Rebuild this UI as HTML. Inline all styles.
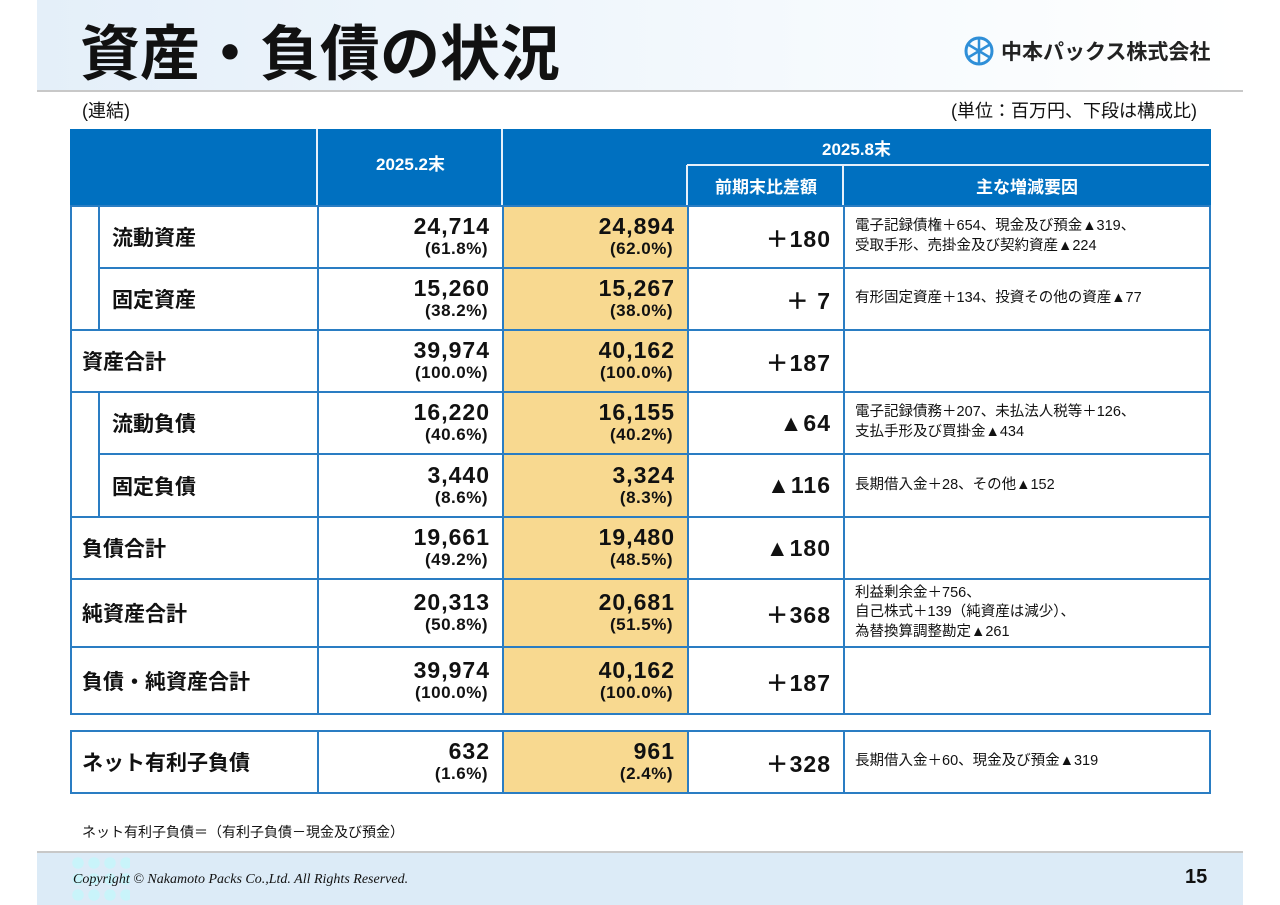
<!DOCTYPE html>
<html><head><meta charset="utf-8"><style>
*{margin:0;padding:0;box-sizing:border-box}
body{width:1280px;height:905px;position:relative;background:#fff;font-family:"Liberation Sans","Noto Sans CJK JP",sans-serif;overflow:hidden;color:#111}
.a{position:absolute}
.cell{position:absolute;border:2px solid #2a7dc3}
.hd{position:absolute;background:#0070c0;color:#fff;font-weight:bold;font-size:17px;display:flex;align-items:center;justify-content:center}
.lbl{font-weight:bold;font-size:21px;display:flex;align-items:center}
.num{text-align:right;padding-right:12px;font-weight:bold;line-height:1}
.num b{display:block;font-size:23px;margin-top:4px;letter-spacing:1px}
.num i{display:block;font-style:normal;font-size:17px;margin-top:2px;padding-right:2px;letter-spacing:0.5px}
.diff{font-weight:bold;font-size:23px;display:flex;align-items:center;justify-content:flex-end;padding-right:12px;letter-spacing:1px}
.note{font-size:14.5px;display:flex;align-items:center;padding-left:10px;line-height:1.35}
</style></head><body>
<div class="a" style="left:37px;top:0;width:1206px;height:91px;background:linear-gradient(90deg,#e4eff9 0%,#f4f9fd 60%,#fff 100%)"></div>
<div class="a" style="left:37px;top:90px;width:1206px;height:2px;background:#c8c8c8"></div>
<div class="a" style="left:80px;top:6px;font-size:60px;font-weight:bold;letter-spacing:0px">資産・負債の状況</div>
<div class="a" style="left:963px;top:35px;display:flex;align-items:center;gap:6px">
<svg width="32" height="32" viewBox="0 0 32 32"><circle cx="16" cy="16" r="13" fill="none" stroke="#2f8fd8" stroke-width="3"/><path d="M16 3V29M6 10L26 22M26 10L6 22" stroke="#2f8fd8" stroke-width="2.5"/></svg>
<span style="font-size:21px;font-weight:bold;color:#222">中本パックス株式会社</span></div>
<div class="a" style="left:82px;top:97px;font-size:18px">(連結)</div>
<div class="a" style="right:83px;top:97px;font-size:18px">(単位：百万円、下段は構成比)</div>
<div id="tbl"></div>
<div class="a" style="left:82px;top:822px;font-size:14px">ネット有利子負債＝（有利子負債－現金及び預金）</div>
<div class="a" style="left:37px;top:851px;width:1206px;height:54px;background:#dcebf7;border-top:2px solid #c8c8c8"></div>
<div class="a" style="left:70px;top:855px;width:60px;height:48px;background:radial-gradient(circle,#c4f6fb 50%,transparent 52%);background-size:16px 16px;opacity:.8"></div>
<div class="a" style="left:73px;top:872px;font-size:14px;font-style:italic;font-family:'Liberation Serif',serif">Copyright © Nakamoto Packs Co.,Ltd. All Rights Reserved.</div>
<div class="a" style="left:1185px;top:866px;font-size:20px;font-weight:bold">15</div>
<script>
const labels=["流動資産","固定資産","資産合計","流動負債","固定負債","負債合計","純資産合計","負債・純資産合計","ネット有利子負債"];
const prevVals=["24,714","15,260","39,974","16,220","3,440","19,661","20,313","39,974","632"];
const prevPct=["(61.8%)","(38.2%)","(100.0%)","(40.6%)","(8.6%)","(49.2%)","(50.8%)","(100.0%)","(1.6%)"];
const curVals=["24,894","15,267","40,162","16,155","3,324","19,480","20,681","40,162","961"];
const curPct=["(62.0%)","(38.0%)","(100.0%)","(40.2%)","(8.3%)","(48.5%)","(51.5%)","(100.0%)","(2.4%)"];
const diffs=["+180","+ 7","+187","▲64","▲116","▲180","+368","+187","+328"];
const notes=["電子記録債権＋654、現金及び預金▲319、<br>受取手形、売掛金及び契約資産▲224","有形固定資産＋134、投資その他の資産▲77","","電子記録債務＋207、未払法人税等＋126、<br>支払手形及び買掛金▲434","長期借入金＋28、その他▲152","","利益剰余金＋756、<br>自己株式＋139（純資産は減少）、<br>為替換算調整勘定▲261","","長期借入金＋60、現金及び預金▲319"];
const indent=[1,1,0,1,1,0,0,0,0];
const rowTops=[205,267,329,391,453,516,578,646,730];
const rowBots=[267,329,391,453,516,578,646,713,792];
const X=[70,317,502,687,843,1209];
const t=document.getElementById('tbl');
function mk(cls,l,tp,w,h,html,name){const d=document.createElement('div');d.className=cls;d.style.left=l+'px';d.style.top=tp+'px';d.style.width=w+'px';d.style.height=h+'px';if(html)d.innerHTML=html;


t.appendChild(d);return d;}
mk('hd',70,129,249,77,'','header-blank');
{const d=mk('hd',317,129,187,77,'2025.2末','header-2025-2');d.style.paddingBottom='10px';}
mk('hd',502,129,709,37,'2025.8末','header-2025-8');
mk('hd',502,165,187,41,'','header-2025-8-value');
mk('hd',687,165,158,41,'前期末比差額','header-diff');
mk('hd',843,165,368,41,'主な増減要因','header-factors');
[[317,129,77],[502,129,77],[687,165,41],[843,165,41]].forEach(s=>{const d=mk('a',s[0]-1,s[1],2,s[2],'','header-divider');d.style.background='#e6f0fa';});
{const d=mk('a',687,164,522,2,'','header-divider');d.style.background='#e6f0fa';}
[[205,329],[391,516]].forEach(g=>{mk('cell',70,g[0],30,g[1]-g[0]+2,'','indent-bracket');});
for(let i=0;i<labels.length;i++){
 const top=rowTops[i],h=rowBots[i]-top+2,lx=indent[i]?98:70;
 const c=mk('cell lbl',lx,top,X[1]-lx+2,h,labels[i],'row-label');c.style.paddingLeft=indent[i]?'12px':'10px';
 const p=mk('cell num',X[1],top,X[2]-X[1]+2,h,'<b>'+prevVals[i]+'</b><i>'+prevPct[i]+'</i>','prev-value');
 const n=mk('cell num',X[2],top,X[3]-X[2]+2,h,'<b>'+curVals[i]+'</b><i>'+curPct[i]+'</i>','current-value');n.style.background='#f8d990';
 const hgt=h;[p,n].forEach(e=>{e.style.paddingTop=Math.max(0,(hgt-52)/2-2)+'px';});
 mk('cell diff',X[3],top,X[4]-X[3]+2,h,diffs[i].replace('+','＋'),'diff-value');
 mk('cell note',X[4],top,X[5]-X[4]+2,h,notes[i],'factor-note');
}
</script>
</body></html>
